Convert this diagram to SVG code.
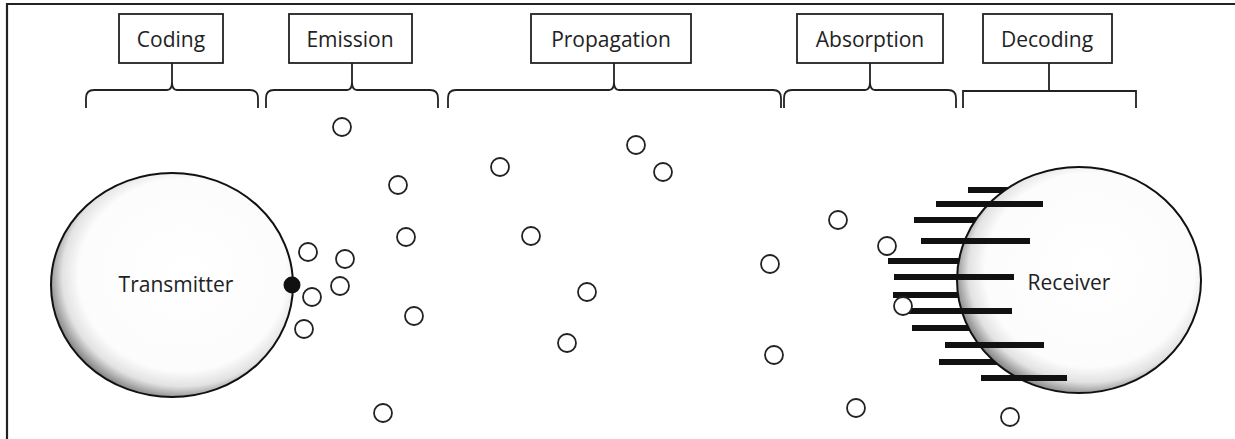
<svg xmlns="http://www.w3.org/2000/svg" width="1235" height="439" viewBox="0 0 1235 439">
<defs>
<radialGradient id="g" cx="0.54" cy="0.46" r="0.55" fx="0.56" fy="0.44">
<stop offset="0" stop-color="#ffffff"/>
<stop offset="0.78" stop-color="#fcfcfc"/>
<stop offset="0.9" stop-color="#e2e2e2"/>
<stop offset="1" stop-color="#8a8a8a"/>
</radialGradient>
<style>
.frame{fill:none;stroke:#222;stroke-width:2.2}
.box{fill:#fff;stroke:#222;stroke-width:1.8}
.lbl{font-family:"Open Sans","Noto Sans",sans-serif;font-size:21px;fill:#222;text-anchor:middle}
.br{fill:none;stroke:#222;stroke-width:1.8}
.p{fill:#fff;stroke:#222;stroke-width:1.8}
.bar{fill:#111}
.body{fill:url(#g);stroke:#111;stroke-width:2}
</style>
</defs>
<rect width="1235" height="439" fill="#fff"/>
<path class="frame" d="M7,439 V4 H1235"/>

<g id="coding">
<rect class="box" x="119" y="14" width="104" height="49"/>
<text class="lbl" x="171" y="47">Coding</text>
</g>
<g id="emission">
<rect class="box" x="289" y="14" width="123" height="49"/>
<text class="lbl" x="350" y="47">Emission</text>
</g>
<g id="propagation">
<rect class="box" x="531" y="14" width="160" height="49"/>
<text class="lbl" x="611" y="47">Propagation</text>
</g>
<g id="absorption">
<rect class="box" x="797" y="14" width="146" height="49"/>
<text class="lbl" x="870" y="47">Absorption</text>
</g>
<g id="decoding">
<rect class="box" x="983" y="14" width="129" height="49"/>
<text class="lbl" x="1047" y="47">Decoding</text>
</g>

<g id="connectors">
<path class="br" d="M86,108 V98 Q86,90 94,90 H167 Q172,90 172,82 V63 M172,82 Q172,90 177,90 H250 Q258,90 258,98 V108"/>
<path class="br" d="M266,108 V98 Q266,90 274,90 H347 Q352,90 352,82 V63 M352,82 Q352,90 357,90 H430 Q438,90 438,98 V108"/>
<path class="br" d="M448,108 V98 Q448,90 456,90 H609 Q614,90 614,82 V63 M614,82 Q614,90 619,90 H773 Q781,90 781,98 V108"/>
<path class="br" d="M784,108 V98 Q784,90 792,90 H865 Q870,90 870,82 V63 M870,82 Q870,90 875,90 H948 Q956,90 956,98 V108"/>
<path class="br" d="M963,108 V91 H1136 V108 M1049,63 V91"/>
</g>

<g id="transmitter">
<ellipse class="body" cx="172" cy="285" rx="121" ry="112"/>
<circle cx="292" cy="285" r="8.5" fill="#111"/>
<text class="lbl" x="176" y="292">Transmitter</text>
</g>

<g id="receiver">
<rect class="bar" x="968" y="187" width="50" height="6"/>
<rect class="bar" x="914" y="217" width="70" height="6"/>
<rect class="bar" x="888" y="258" width="80" height="6"/>
<rect class="bar" x="893" y="292" width="75" height="6"/>
<rect class="bar" x="912" y="325" width="70" height="6"/>
<rect class="bar" x="939" y="359" width="60" height="6"/>
<ellipse class="body" cx="1079" cy="280" rx="122" ry="113"/>
<rect class="bar" x="936" y="201" width="107" height="6"/>
<rect class="bar" x="921" y="238" width="109" height="6"/>
<rect class="bar" x="894" y="274" width="120" height="6"/>
<rect class="bar" x="907" y="308" width="105" height="6"/>
<rect class="bar" x="945" y="342" width="99" height="6"/>
<rect class="bar" x="981" y="375" width="86" height="6"/>
<text class="lbl" x="1069" y="290">Receiver</text>
</g>

<g id="particles">
<circle class="p" cx="342" cy="127" r="9"/>
<circle class="p" cx="398" cy="185" r="9"/>
<circle class="p" cx="406" cy="237" r="9"/>
<circle class="p" cx="308" cy="252" r="9"/>
<circle class="p" cx="345" cy="259" r="9"/>
<circle class="p" cx="340" cy="286" r="9"/>
<circle class="p" cx="312" cy="297" r="9"/>
<circle class="p" cx="304" cy="329" r="9"/>
<circle class="p" cx="414" cy="316" r="9"/>
<circle class="p" cx="383" cy="413" r="9"/>
<circle class="p" cx="500" cy="167" r="9"/>
<circle class="p" cx="636" cy="145" r="9"/>
<circle class="p" cx="663" cy="172" r="9"/>
<circle class="p" cx="531" cy="236" r="9"/>
<circle class="p" cx="587" cy="292" r="9"/>
<circle class="p" cx="567" cy="343" r="9"/>
<circle class="p" cx="838" cy="220" r="9"/>
<circle class="p" cx="770" cy="264" r="9"/>
<circle class="p" cx="774" cy="355" r="9"/>
<circle class="p" cx="856" cy="408" r="9"/>
<circle class="p" cx="887" cy="246" r="9"/>
<circle class="p" cx="903" cy="306" r="9"/>
<circle class="p" cx="1010" cy="417" r="9"/>
</g>
</svg>
